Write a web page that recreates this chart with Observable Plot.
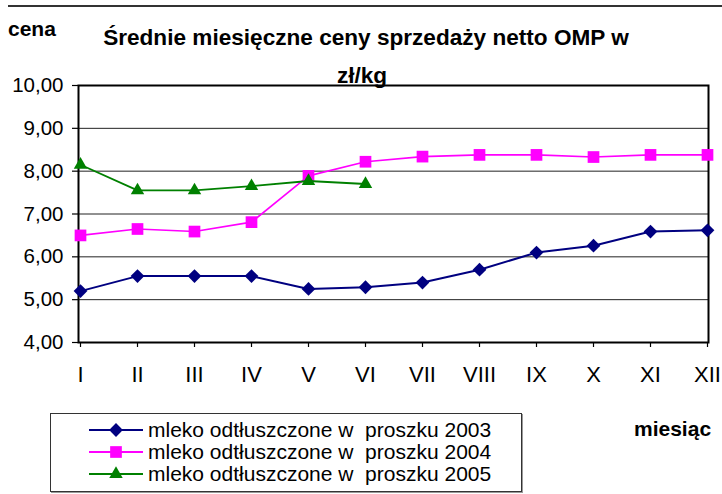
<!DOCTYPE html>
<html><head><meta charset="utf-8">
<script src="https://cdn.jsdelivr.net/npm/d3@7"></script>
<script src="https://cdn.jsdelivr.net/npm/@observablehq/plot@0.6"></script>
<style>
body{margin:0;background:#fff;}
#wrap{position:relative;width:722px;height:494px;font-family:"Liberation Sans",Arial,sans-serif;overflow:hidden;background:#fff;}
.t{position:absolute;white-space:pre;color:#000;line-height:1;}
#wrap svg.main{position:absolute;left:0;top:0;}
</style></head><body>
<div id="wrap"></div>
<script>
// ---- data ----
const months = ["I","II","III","IV","V","VI","VII","VIII","IX","X","XI","XII"];
const years = ["2003","2004","2005"];
const price2003 = [5.20, 5.55, 5.55, 5.55, 5.25, 5.29, 5.40, 5.70, 6.10, 6.26, 6.59, 6.62];
const price2004 = [6.50, 6.65, 6.59, 6.81, 7.89, 8.22, 8.34, 8.38, 8.38, 8.33, 8.38, 8.38];
const price2005 = [8.15, 7.55, 7.55, 7.65, 7.77, 7.70];
const yTicks = [4, 5, 6, 7, 8, 9, 10];
const seriesName = "mleko odtłuszczone w  proszku ";
const titleLine1 = "Średnie miesięczne ceny sprzedaży netto OMP w";
const titleLine2 = "zł/kg";
const yLabel = "cena";
const xLabel = "miesiąc";

// ---- styling ----
const colors = {"2003": "#000080", "2004": "#FF00FF", "2005": "#008000"};
const symbolOf = {"2003": "diamond2", "2004": "square", "2005": "triangle"};
const rOf = {"2003": 6.2, "2004": 6.6, "2005": 5.0};
const lineW = {"2003": 2, "2004": 1.6, "2005": 1.8};

const values = {"2003": price2003, "2004": price2004, "2005": price2005};
const rows = years.flatMap(yr => values[yr].map((v, i) => ({year: yr, month: months[i], price: v})));

const fmt = d => d3.format(".2f")(d).replace(".", ",");

const seriesMarks = years.flatMap(yr => {
  const data = rows.filter(d => d.year === yr);
  return [
    Plot.line(data, {x: "month", y: "price", stroke: colors[yr], strokeWidth: lineW[yr]}),
    Plot.dot(data, {x: "month", y: "price", fill: colors[yr], stroke: "none", symbol: () => symbolOf[yr], r: rOf[yr]})
  ];
});

const chart = Plot.plot({
  width: 722, height: 494,
  marginTop: 85, marginLeft: 78, marginRight: 14, marginBottom: 152,
  style: {fontFamily: "'Liberation Sans', Arial, sans-serif", fontSize: "21px", color: "#000", background: "transparent", overflow: "visible"},
  x: {type: "point", domain: months, padding: 0, label: null},
  y: {domain: [4, 10], label: null},
  symbol: {type: "identity"},
  marks: [
    Plot.gridY(yTicks, {stroke: "#222", strokeOpacity: 1, strokeWidth: 1}),
    Plot.axisY(yTicks, {tickSize: 6, tickPadding: 9, tickFormat: fmt, fontSize: 20.5, stroke: "#000", strokeWidth: 1.2}),
    Plot.axisX(months, {tickSize: 5, tickPadding: 19, fontSize: 22, stroke: "#000", strokeWidth: 1.2}),
    Plot.frame({stroke: "#000", strokeWidth: 2}),
    ...seriesMarks
  ]
});
chart.classList.add("main");
const wrap = document.getElementById("wrap");
wrap.appendChild(chart);

// top rule
const rule = document.createElement("div");
rule.style.cssText = "position:absolute;left:8px;top:5px;width:714px;height:0;border-top:2px solid #333;";
wrap.appendChild(rule);

function addText(txt, css) {
  const el = document.createElement("div");
  el.className = "t";
  el.textContent = txt;
  el.style.cssText += css;
  wrap.appendChild(el);
  return el;
}
addText(yLabel, "left:8px;top:18px;font-weight:bold;font-size:21px;");
addText(titleLine1, "left:0;width:732px;text-align:center;top:27px;font-weight:bold;font-size:22.6px;");
addText(titleLine2, "left:0;width:724px;text-align:center;top:65px;font-weight:bold;font-size:22.6px;");
addText(xLabel, "left:634px;top:418px;font-weight:bold;font-size:21px;");

// legend
const lg = document.createElement("div");
lg.style.cssText = "position:absolute;left:50px;top:413px;width:470px;height:77px;border:1.5px solid #333;box-shadow:1px 1px 0 #999;background:#fff;";
wrap.appendChild(lg);
const lsvg = d3.select(lg).append("svg").attr("width", 100).attr("height", 77).style("position", "absolute").style("left", "0").style("top", "0");
const symMap = {diamond2: d3.symbolDiamond2, square: d3.symbolSquare, triangle: d3.symbolTriangle};
years.forEach((yr, i) => {
  const cy = 16 + i * 22;
  lsvg.append("line").attr("x1", 38).attr("x2", 92).attr("y1", cy).attr("y2", cy).attr("stroke", colors[yr]).attr("stroke-width", 2);
  lsvg.append("path").attr("transform", `translate(65,${cy})`)
    .attr("d", d3.symbol(symMap[symbolOf[yr]], Math.PI * rOf[yr] * rOf[yr])())
    .attr("fill", colors[yr]);
  const t = document.createElement("div");
  t.className = "t";
  t.textContent = seriesName + yr;
  t.style.cssText += `left:97px;top:${cy - 11}px;font-size:21px;`;
  lg.appendChild(t);
});
</script>
</body></html>
